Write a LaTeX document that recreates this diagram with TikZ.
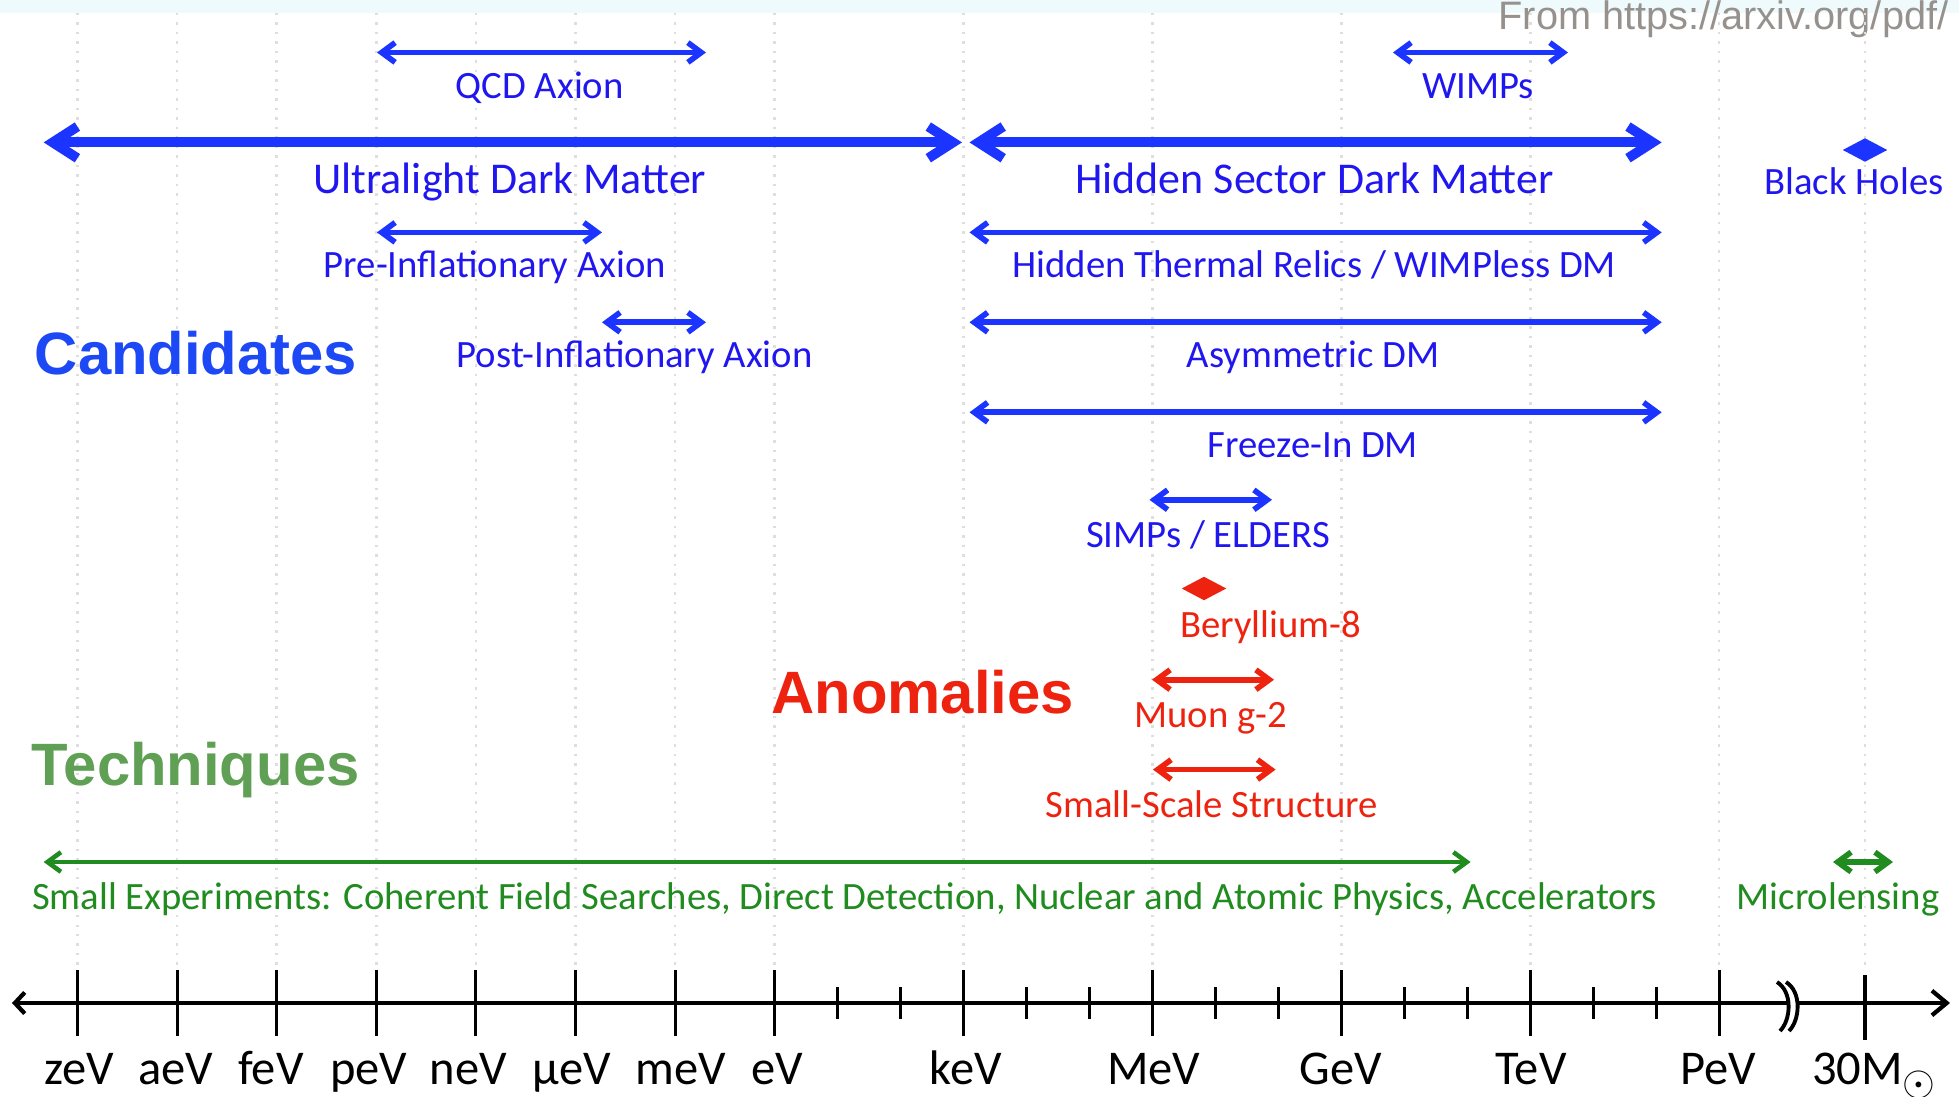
\documentclass[tikz,border=0pt]{standalone}
\usepackage{fontspec}
\setmainfont{Carlito}
\newfontfamily\headfont{Liberation Sans}
\usetikzlibrary{arrows.meta,shapes.geometric}

\definecolor{dmblue}{RGB}{28,52,255}
\definecolor{txtblue}{RGB}{32,22,240}
\definecolor{candblue}{RGB}{28,72,245}
\definecolor{anred}{RGB}{238,35,15}
\definecolor{expgreen}{RGB}{32,140,32}
\definecolor{techgreen}{RGB}{95,160,85}
\definecolor{gridgray}{RGB}{222,222,222}
\definecolor{topcyan}{RGB}{238,250,252}
\definecolor{srcgray}{RGB}{150,145,140}

\begin{document}
\begin{tikzpicture}[x=0.01cm, y=-0.01cm]
	\tikzstyle{span}=[{Straight Barb[length=3.8pt,width=5.6pt]}-{Straight Barb[length=3.8pt,width=5.6pt]}, line width=1.6pt]
	\tikzstyle{bigspan}=[{Straight Barb[length=7pt,width=9pt]}-{Straight Barb[length=7pt,width=9pt]}, line width=2.8pt]
	\tikzstyle{lbl}=[anchor=base, inner sep=0pt, font=\fontsize{11}{13}\selectfont]
	\tikzstyle{biglbl}=[anchor=base, inner sep=0pt, font=\fontsize{12.5}{15}\selectfont]
	\tikzstyle{heading}=[anchor=base, inner sep=0pt, font=\headfont\bfseries\fontsize{17}{20}\selectfont]
	\tikzstyle{tickname}=[anchor=base, inner sep=0pt, font=\fontsize{13.8}{16}\selectfont]
	\tikzstyle{gem}=[diamond, inner sep=0pt, minimum width=0.45cm, minimum height=0.24cm]

	\useasboundingbox (0,0) rectangle (1959,1097);
	\clip (0,0) rectangle (1959,1097);
	\fill[white] (0,0) rectangle (1959,1097);
	\fill[topcyan] (0,0) rectangle (1959,13);
	\node[anchor=base east, inner sep=0pt, text=srcgray, font=\headfont\fontsize{11.3}{13}\selectfont] (src) at (1949,30) {From https://arxiv.org/pdf/};

	% grid
	\foreach \gx in {77.5,177.1,276.7,376.3,475.9,575.5,675.1,774.7,963.6,1152.5,1341.4,1530.3,1719.2,1865}
		\draw[gridgray, line width=0.7pt, dotted] (\gx,13) -- (\gx,970);

	% axis
	\coordinate (axL) at (12,1003);
	\coordinate (axR) at (1950,1003);
	\draw[line width=1.2pt, {Straight Barb[length=2.8pt,width=6pt]}-{Straight Barb[length=4.2pt,width=7pt]}] (axL) -- (axR);
	\foreach \gx in {77.5,177.1,276.7,376.3,475.9,575.5,675.1,774.7,963.6,1152.5,1341.4,1530.3,1719.2}
		\draw[line width=0.9pt] (\gx,970) -- (\gx,1036);
	\foreach \gx in {837.7,900.6,1026.6,1089.5,1215.5,1278.4,1404.4,1467.3,1593.3,1656.2}
		\draw[line width=0.9pt] (\gx,987) -- (\gx,1019);
	\draw[line width=0.9pt] (1865,975) -- (1865,1040);
	\fill[white] (1777,982) .. controls (1793,992) and (1791,1020) .. (1780,1031) -- (1789,1031) .. controls (1800,1020) and (1802,992) .. (1786,982) -- cycle;
	\draw[line width=1.1pt] (1777,982) .. controls (1793,992) and (1791,1020) .. (1780,1031);
	\draw[line width=1.1pt] (1786,982) .. controls (1802,992) and (1800,1020) .. (1789,1031);

	\node[tickname] (zev) at (79,1084) {zeV};
	\node[tickname] (aev) at (176,1084) {aeV};
	\node[tickname] (fev) at (271,1084) {feV};
	\node[tickname] (pev) at (368.6,1084) {peV};
	\node[tickname] (nev) at (468.5,1084) {neV};
	\node[tickname] (uev) at (571.6,1084) {µeV};
	\node[tickname] (mev) at (681,1084) {meV};
	\node[tickname] (ev) at (777,1084) {eV};
	\node[tickname] (kev) at (966,1084) {keV};
	\node[tickname] (MeV) at (1153.8,1084) {MeV};
	\node[tickname] (gev) at (1341,1084) {GeV};
	\node[tickname] (tev) at (1531,1084) {TeV};
	\node[tickname] (PeV) at (1718,1084) {PeV};
	\node[tickname] (msun) at (1874,1084) {30M\raisebox{-0.5ex}{\fontsize{12}{12}\selectfont$\odot$}};

	% candidates
	\node[heading, text=candblue] (cand) at (196,375) {Candidates};

	\coordinate (qcdL) at (377,52.5);
	\coordinate (qcdR) at (706,52.5);
	\draw[span, dmblue] (qcdL) -- (qcdR);
	\node[lbl, text=txtblue] (qcd) at (539.7,98.7) {QCD Axion};

	\coordinate (wimpL) at (1393,52.5);
	\coordinate (wimpR) at (1568,52.5);
	\draw[span, dmblue] (wimpL) -- (wimpR);
	\node[lbl, text=txtblue] (wimp) at (1478,98.7) {WIMPs};

	\coordinate (uldmL) at (43.7,142.4);
	\coordinate (uldmR) at (962,142.4);
	\draw[bigspan, dmblue] (uldmL) -- (uldmR);
	\node[biglbl, text=txtblue] (uldm) at (509.8,194) {Ultralight Dark Matter};

	\coordinate (hsdmL) at (969.5,142.4);
	\coordinate (hsdmR) at (1661.7,142.4);
	\draw[bigspan, dmblue] (hsdmL) -- (hsdmR);
	\node[biglbl, text=txtblue] (hsdm) at (1314.4,194) {Hidden Sector Dark Matter};

	\node[gem, fill=dmblue] (bhgem) at (1865,150) {};
	\node[lbl, text=txtblue] (bh) at (1854,195) {Black Holes};

	\coordinate (preL) at (377,232.4);
	\coordinate (preR) at (602,232.4);
	\draw[span, dmblue] (preL) -- (preR);
	\node[lbl, text=txtblue] (pre) at (494.8,277.4) {Pre-Inflationary Axion};

	\coordinate (htrL) at (969.5,232.4);
	\coordinate (htrR) at (1661.7,232.4);
	\draw[span, dmblue] (htrL) -- (htrR);
	\node[lbl, text=txtblue] (htr) at (1314.4,277.4) {Hidden Thermal Relics / WIMPless DM};

	\coordinate (postL) at (602,322.3);
	\coordinate (postR) at (706,322.3);
	\draw[span, dmblue] (postL) -- (postR);
	\node[lbl, text=txtblue] (post) at (634.7,367.3) {Post-Inflationary Axion};

	\coordinate (admL) at (969.5,322.3);
	\coordinate (admR) at (1661.7,322.3);
	\draw[span, dmblue] (admL) -- (admR);
	\node[lbl, text=txtblue] (adm) at (1313,367.3) {Asymmetric DM};

	\coordinate (fiL) at (969.5,412.3);
	\coordinate (fiR) at (1661.7,412.3);
	\draw[span, dmblue] (fiL) -- (fiR);
	\node[lbl, text=txtblue] (fi) at (1313,457.3) {Freeze-In DM};

	\coordinate (simpL) at (1149.5,499.8);
	\coordinate (simpR) at (1272,499.8);
	\draw[span, dmblue] (simpL) -- (simpR);
	\node[lbl, text=txtblue] (simp) at (1208,547.2) {SIMPs / ELDERS};

	% anomalies
	\node[heading, text=anred] (anom) at (922.7,713) {Anomalies};

	\node[gem, fill=anred] (begem) at (1204,588.5) {};
	\node[lbl, text=anred] (be) at (1270.6,637.2) {Beryllium-8};

	\coordinate (muL) at (1152,679.7);
	\coordinate (muR) at (1274,679.7);
	\draw[span, anred] (muL) -- (muR);
	\node[lbl, text=anred] (mu) at (1210.7,727.2) {Muon g-2};

	\coordinate (sssL) at (1153,769.6);
	\coordinate (sssR) at (1275.6,769.6);
	\draw[span, anred] (sssL) -- (sssR);
	\node[lbl, text=anred] (sss) at (1212,817.1) {Small-Scale Structure};

	% techniques
	\node[heading, text=techgreen] (tech) at (195.6,785) {Techniques};

	\coordinate (expL) at (43.7,862);
	\coordinate (expR) at (1470.6,862);
	\draw[span, expgreen, line width=1.3pt] (expL) -- (expR);
	\node[lbl, text=expgreen] (exp) at (844.6,909.5) {Small Experiments: Coherent Field Searches, Direct Detection, Nuclear and Atomic Physics, Accelerators};

	\coordinate (lensL) at (1833,862);
	\coordinate (lensR) at (1893,862);
	\draw[span, expgreen] (lensL) -- (lensR);
	\node[lbl, text=expgreen] (lens) at (1838,909.5) {Microlensing};
\end{tikzpicture}
\end{document}
